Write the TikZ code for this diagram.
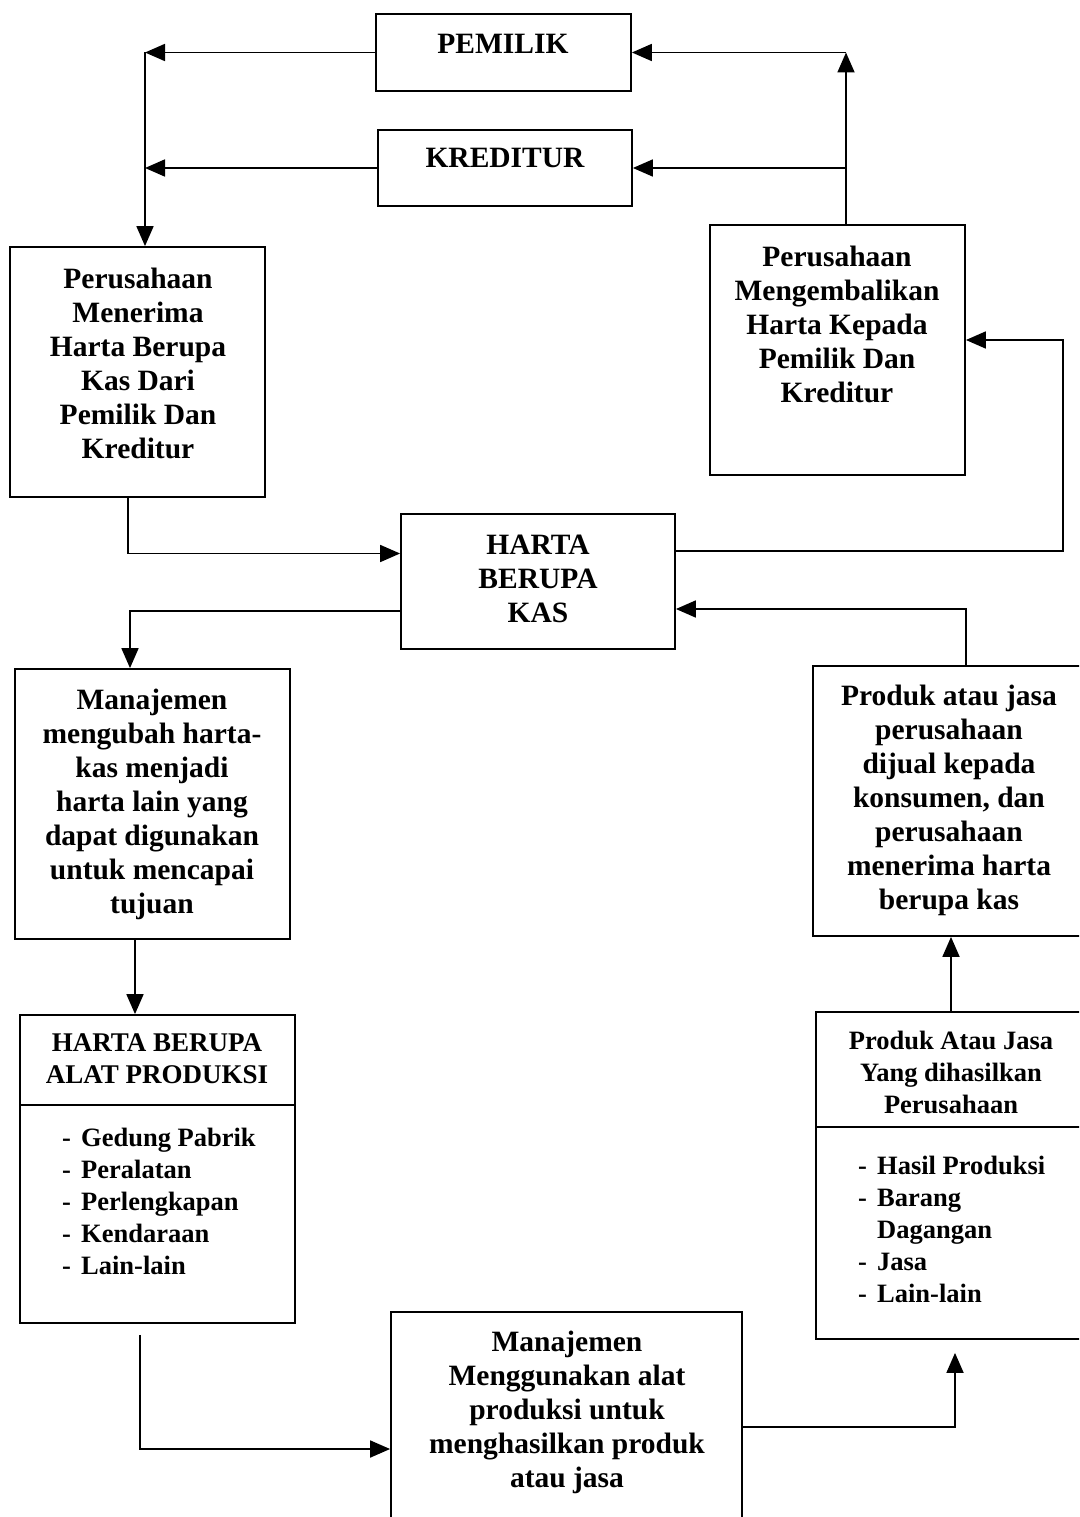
\documentclass[tikz,border=0pt]{standalone}
\usepackage{fontspec}
\setmainfont{Liberation Serif}
\usepackage{tikz}
\usetikzlibrary{arrows.meta}
\newcommand{\butir}[1]{\makebox[19pt][l]{-}#1}

\begin{document}
\begin{tikzpicture}[x=1pt, y=-1pt, >={Triangle[length=20pt,width=17pt]},
  kotak/.style={draw, line width=1.8pt, inner sep=0pt},
  teks/.style={font=\bfseries\fontsize{29.5}{34}\selectfont, align=center, inner sep=0pt},
  judul/.style={font=\bfseries\fontsize{26.5}{32}\selectfont, align=center, inner sep=0pt},
  daftar/.style={font=\bfseries\fontsize{26.5}{32}\selectfont, align=left, inner sep=0pt, anchor=west},
  panah/.style={->, line width=1.8pt}]
\clip (0,0) rectangle (1079,1517);
\fill[white] (0,0) rectangle (1079,1517);
% kotak
\node[kotak, minimum width=255pt, minimum height=77pt]  (pemilik)  at (503.5,52.5) {};
\node[kotak, minimum width=254pt, minimum height=76pt]  (kreditur) at (505,168) {};
\node[kotak, minimum width=255pt, minimum height=250pt] (terima)   at (137.5,372) {};
\node[kotak, minimum width=255pt, minimum height=250pt] (kembali)  at (837.5,350) {};
\node[kotak, minimum width=274pt, minimum height=135pt] (kas)      at (538,581.5) {};
\node[kotak, minimum width=275pt, minimum height=270pt] (ubah)     at (152.5,804) {};
\node[kotak, minimum width=275pt, minimum height=308pt] (alat)     at (157.5,1169) {};
\node[kotak, minimum width=351pt, minimum height=218pt] (guna)     at (566.5,1421) {};
\node[kotak, minimum width=277pt, minimum height=270pt] (jual)     at (951.5,801) {};
\node[kotak, minimum width=274pt, minimum height=327pt] (hasil)    at (953,1175.5) {};
\draw[line width=1.8pt] ([yshift=-91pt]alat.north west) -- ([yshift=-91pt]alat.north east);
\draw[line width=1.8pt] ([yshift=-116pt]hasil.north west) -- ([yshift=-116pt]hasil.north east);
% teks
\node[teks] (tPemilik)  at (503,44) {PEMILIK};
\node[teks] (tKreditur) at (505,158) {KREDITUR};
\node[teks] (tTerima)   at (138,363) {Perusahaan\\Menerima\\Harta Berupa\\Kas Dari\\Pemilik Dan\\Kreditur};
\node[teks] (tKembali)  at (837,324) {Perusahaan\\Mengembalikan\\Harta Kepada\\Pemilik Dan\\Kreditur};
\node[teks] (tKas)      at (538,579) {HARTA\\BERUPA\\KAS};
\node[teks] (tUbah)     at (152,804) {Manajemen\\mengubah harta-\\kas menjadi\\harta lain yang\\dapat digunakan\\untuk mencapai\\tujuan};
\node[judul, font=\bfseries\fontsize{27}{32}\selectfont] (tAlat) at (157,1059) {HARTA BERUPA\\ALAT PRODUKSI};
\node[daftar] (lAlat) at (62,1201.5) {\butir{Gedung Pabrik}\\\butir{Peralatan}\\\butir{Perlengkapan}\\\butir{Kendaraan}\\\butir{Lain-lain}};
\node[teks] (tGuna)     at (567,1412) {Manajemen\\Menggunakan alat\\produksi untuk\\menghasilkan produk\\atau jasa};
\node[teks] (tJual)     at (949,800) {Produk atau jasa\\perusahaan\\dijual kepada\\konsumen, dan\\perusahaan\\menerima harta\\berupa kas};
\node[judul] (tHasil)   at (951,1072) {Produk Atau Jasa\\Yang dihasilkan\\Perusahaan};
\node[daftar] (lHasil) at (858,1229.5) {\butir{Hasil Produksi}\\\butir{Barang}\\\hspace*{19pt}Dagangan\\\butir{Jasa}\\\butir{Lain-lain}};
% panah
\coordinate (kiriAtas) at (145,52.5);
\coordinate (kananAtas) at (846,52.5);
\draw[panah] (pemilik.west) -- (kiriAtas);
\draw[panah] (kreditur.west) -- (kiriAtas |- kreditur.west);
\draw[panah] (kiriAtas) -- (kiriAtas |- terima.north);
\draw[panah] (kananAtas |- kembali.north) -- (kananAtas);
\draw[panah] (kananAtas) -- (pemilik.east);
\draw[panah] (kananAtas |- kreditur.east) -- (kreditur.east);
\draw[panah] ([xshift=-9.5pt]terima.south) |- ([yshift=28pt]kas.west);
\draw[panah] ([yshift=30.5pt]kas.east) -- ++(387,0) |- ([yshift=10pt]kembali.east);
\draw[panah] ([yshift=-29.5pt]kas.west) -| ([xshift=-22.5pt]ubah.north);
\draw[panah] ([xshift=14.5pt]jual.north) |- ([yshift=-27.5pt]kas.east);
\draw[panah] ([xshift=-17.5pt]ubah.south) -- ([xshift=-22.5pt]alat.north);
\draw[panah] ([shift={(-17.5pt,-11pt)}]alat.south) |- ([yshift=-28pt]guna.west);
\draw[panah] ([yshift=-6pt]guna.east) -| ([shift={(2pt,-13pt)}]hasil.south);
\draw[panah] ([xshift=-2pt]hasil.north) -- ([xshift=-0.5pt]jual.south);
\end{tikzpicture}
\end{document}
